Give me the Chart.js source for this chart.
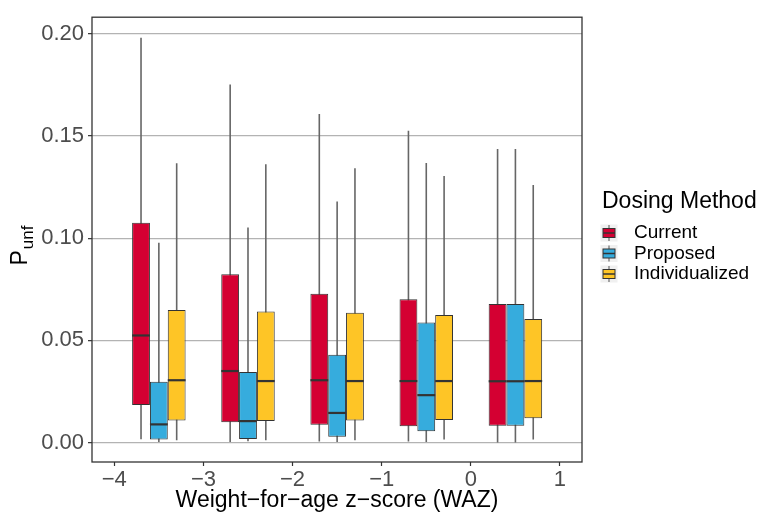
<!DOCTYPE html>
<html>
<head>
<meta charset="utf-8">
<script src="https://cdn.jsdelivr.net/npm/chart.js@4.4.0/dist/chart.umd.min.js"></script>
<style>
  html, body { margin: 0; padding: 0; background: #fff; }
</style>
</head>
<body>
<canvas id="myChart" width="762" height="515"></canvas>
<script>
// WAZ group centres and the three dosing methods
var wazGroups = [-3.5, -2.5, -1.5, -0.5, 0.5];
var methodNames = ['Current', 'Proposed', 'Individualized'];
var methodColors = ['#d40032', '#36acdd', '#fec526'];

// box statistics per method (lower whisker, Q1, median, Q3, upper whisker)
var currentMin = [0.0016, 0.0003, 0.0005, 0.0005, 0.0001];
var currentQ1 = [0.0184, 0.0100, 0.0087, 0.0080, 0.0082];
var currentMedian = [0.0524, 0.0350, 0.0305, 0.0301, 0.0300];
var currentQ3 = [0.1075, 0.0824, 0.0728, 0.0701, 0.0678];
var currentMax = [0.1980, 0.1752, 0.1608, 0.1525, 0.1436];

var proposedMin = [0.0003, 0.0006, 0.0003, 0.0003, 0.0001];
var proposedQ1 = [0.0015, 0.0018, 0.0029, 0.0056, 0.0082];
var proposedMedian = [0.0089, 0.0105, 0.0145, 0.0232, 0.0300];
var proposedQ3 = [0.0298, 0.0345, 0.0430, 0.0588, 0.0678];
var proposedMax = [0.0978, 0.1052, 0.1180, 0.1368, 0.1436];

var individualMin = [0.0011, 0.0011, 0.0011, 0.0015, 0.0015];
var individualQ1 = [0.0108, 0.0105, 0.0108, 0.0111, 0.0119];
var individualMedian = [0.0305, 0.0301, 0.0301, 0.0301, 0.0301];
var individualQ3 = [0.0648, 0.0641, 0.0635, 0.0624, 0.0604];
var individualMax = [0.1367, 0.1362, 0.1342, 0.1304, 0.1260];

var xTickValues = [-4, -3, -2, -1, 0, 1];
var yTickValues = [0, 0.05, 0.10, 0.15, 0.20];

var fontFamily = '"Liberation Sans", Arial, sans-serif';

function makeDataset(i, lo, q1, med, q3, hi) {
    return {
        label: methodNames[i],
        data: wazGroups.map(function (x, j) {
            return { x: x, y: [q1[j], q3[j]] };
        }),
        backgroundColor: methodColors[i],
        borderColor: '#333333',
        borderWidth: 1,
        borderSkipped: false,
        whiskerLow: lo,
        whiskerHigh: hi,
        median: med
    };
}

// whiskers behind the boxes, medians and panel frame on top
var boxplotParts = {
    id: 'boxplotParts',
    beforeDatasetsDraw: function (chart) {
        var ctx = chart.ctx;
        var yScale = chart.scales.y;
        ctx.save();
        ctx.strokeStyle = '#666666';
        ctx.lineWidth = 1.6;
        chart.data.datasets.forEach(function (ds, d) {
            chart.getDatasetMeta(d).data.forEach(function (bar, i) {
                ctx.beginPath();
                ctx.moveTo(bar.x, yScale.getPixelForValue(ds.whiskerHigh[i]));
                ctx.lineTo(bar.x, yScale.getPixelForValue(ds.whiskerLow[i]));
                ctx.stroke();
            });
        });
        ctx.restore();
    },
    afterDatasetsDraw: function (chart) {
        var ctx = chart.ctx;
        var yScale = chart.scales.y;
        var area = chart.chartArea;
        ctx.save();
        ctx.strokeStyle = '#333333';
        ctx.lineWidth = 2.2;
        chart.data.datasets.forEach(function (ds, d) {
            chart.getDatasetMeta(d).data.forEach(function (bar, i) {
                var py = yScale.getPixelForValue(ds.median[i]);
                ctx.beginPath();
                ctx.moveTo(bar.x - bar.width / 2, py);
                ctx.lineTo(bar.x + bar.width / 2, py);
                ctx.stroke();
            });
        });
        ctx.lineWidth = 1.3;
        ctx.strokeRect(area.left, area.top, area.right - area.left, area.bottom - area.top);
        ctx.restore();
    }
};

// y title with subscript, and the legend with boxplot keys
var sideText = {
    id: 'sideText',
    afterDraw: function (chart) {
        var ctx = chart.ctx;
        var area = chart.chartArea;
        ctx.save();

        ctx.translate(27, (area.top + area.bottom) / 2 + 26);
        ctx.rotate(-Math.PI / 2);
        ctx.fillStyle = '#000';
        ctx.textBaseline = 'alphabetic';
        ctx.textAlign = 'left';
        ctx.font = '23px ' + fontFamily;
        ctx.fillText('P', 0, 0);
        var pw = ctx.measureText('P').width;
        ctx.font = '17px ' + fontFamily;
        ctx.fillText('unf', pw + 1, 6);
        ctx.setTransform(1, 0, 0, 1, 0, 0);

        var left = area.right + 20;
        ctx.font = '23px ' + fontFamily;
        ctx.fillStyle = '#000';
        ctx.fillText('Dosing Method', left, 208);

        chart.data.datasets.forEach(function (ds, i) {
            var cy = 233 + i * 20.5;
            var cx = left + 7;
            ctx.fillStyle = '#f0f0f0';
            ctx.fillRect(cx - 8.5, cy - 8.5, 17, 17);
            ctx.strokeStyle = '#555';
            ctx.lineWidth = 1;
            ctx.beginPath();
            ctx.moveTo(cx, cy - 8);
            ctx.lineTo(cx, cy + 8);
            ctx.stroke();
            ctx.fillStyle = ds.backgroundColor;
            ctx.fillRect(cx - 6, cy - 4.5, 12, 9);
            ctx.strokeStyle = '#333';
            ctx.strokeRect(cx - 6, cy - 4.5, 12, 9);
            ctx.lineWidth = 1.5;
            ctx.beginPath();
            ctx.moveTo(cx - 6, cy);
            ctx.lineTo(cx + 6, cy);
            ctx.stroke();

            ctx.fillStyle = '#000';
            ctx.font = '19px ' + fontFamily;
            ctx.textBaseline = 'middle';
            ctx.fillText(ds.label, left + 32, cy);
            ctx.textBaseline = 'alphabetic';
        });
        ctx.restore();
    }
};

function minusLabel(v) {
    return v < 0 ? '\u2212' + Math.abs(v) : String(v);
}

var ctx = document.getElementById('myChart').getContext('2d');
var myChart = new Chart(ctx, {
    type: 'bar',
    data: {
        datasets: [
            makeDataset(0, currentMin, currentQ1, currentMedian, currentQ3, currentMax),
            makeDataset(1, proposedMin, proposedQ1, proposedMedian, proposedQ3, proposedMax),
            makeDataset(2, individualMin, individualQ1, individualMedian, individualQ3, individualMax)
        ]
    },
    options: {
        responsive: false,
        animation: false,
        devicePixelRatio: 1,
        categoryPercentage: 0.6,
        barPercentage: 1.0,
        layout: { padding: { top: 12, right: 180, left: 0, bottom: 0 } },
        plugins: {
            legend: { display: false },
            tooltip: { enabled: false }
        },
        scales: {
            x: {
                type: 'linear',
                min: -4.25,
                max: 1.247,
                offset: false,
                afterBuildTicks: function (scale) {
                    scale.ticks = xTickValues.map(function (v) { return { value: v }; });
                },
                afterFit: function (scale) { scale.height = 53; },
                grid: { offset: false, drawOnChartArea: false, tickLength: 4, tickColor: '#333', tickWidth: 1.2 },
                border: { display: false },
                ticks: {
                    color: '#4d4d4d',
                    font: { family: fontFamily, size: 22 },
                    padding: 1,
                    maxRotation: 0,
                    autoSkip: false,
                    callback: minusLabel
                },
                title: {
                    display: true,
                    text: 'Weight\u2212for\u2212age z\u2212score (WAZ)',
                    color: '#000',
                    font: { family: fontFamily, size: 23 },
                    padding: { top: 0, bottom: 1 }
                }
            },
            y: {
                min: -0.0095,
                max: 0.2081,
                afterBuildTicks: function (scale) {
                    scale.ticks = yTickValues.map(function (v) { return { value: v }; });
                },
                afterFit: function (scale) { scale.width = 92; },
                grid: { color: '#b3b3b3', lineWidth: 1.3, tickLength: 4, tickColor: '#333', tickWidth: 1.2 },
                border: { display: false },
                ticks: {
                    color: '#4d4d4d',
                    font: { family: fontFamily, size: 22 },
                    padding: 4,
                    callback: function (v) { return v.toFixed(2); }
                }
            }
        }
    },
    plugins: [boxplotParts, sideText]
});
</script>
</body>
</html>
